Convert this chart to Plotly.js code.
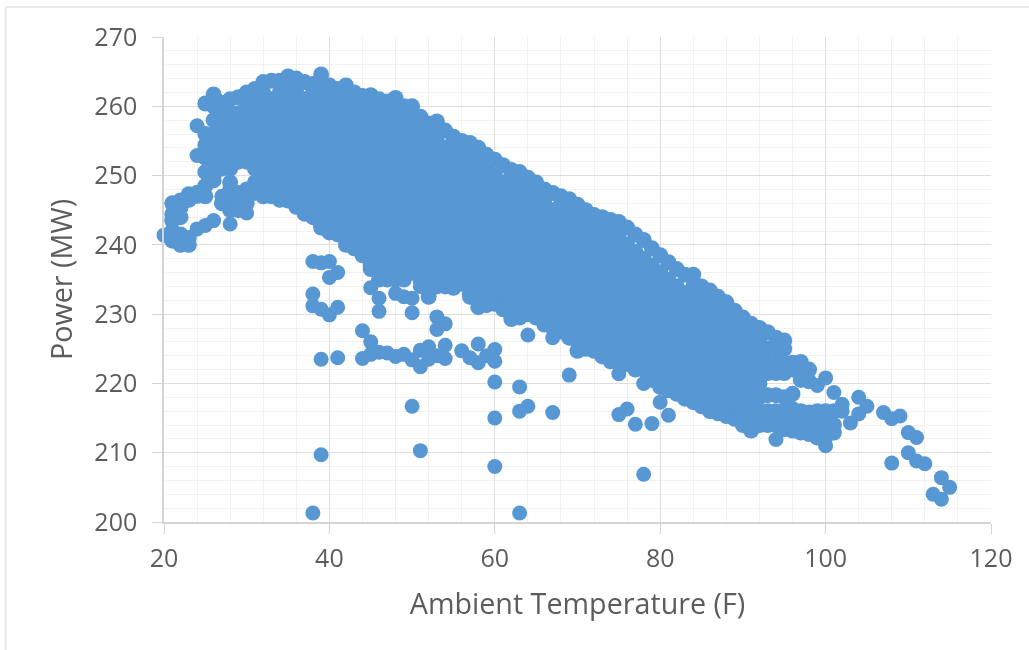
<!DOCTYPE html>
<html><head><meta charset="utf-8">
<script src="https://cdn.plot.ly/plotly-3.0.1.min.js"></script>
<style>html,body{margin:0;padding:0;background:#fff}#c{width:1029px;height:650px;filter:blur(0.5px)}</style>
</head><body><div id="c"></div>
<script>
const xTickValues=[20,40,60,80,100,120];
const yTickValues=[200,210,220,230,240,250,260,270];
const xTitle="Ambient Temperature (F)";
const yTitle="Power (MW)";
// readings grouped by temperature: [temperature, powers...]
const columns=[
[21,246,244.4,243.5,242,240.6],
[22,246.4,245.4,244,241.5,240],
[23,247.3,246.5,240,241],
[25,260.4,256,254.4,252.6,250.5,248.5,247],
[26,261.7,260,258,256,254,252,250,249.3],
[27,260.5,258.5,256.5,254.5,252.5,251,246],
[28,261,259,257,255,253,251,249,248,247,245],
[29,261.3,259,257,255,253,252,247.5,246,245],
[30,262,260,258,256,254,252,248,247,246],
[31,262.5,261,259,257,255,253,251,249,247.5],
[32,263.5,262,260,258,256,254,252,250,248,247],
[33,263.7,261,259,257,255,253,251,249,247],
[34,263.7,262,260,258,256,254,252,250,248,246.5],
[35,264.3,263,261,259,257,255,253,251,249,247,246.4],
[36,264,262,260,258,256,254,252,250,248,246,245.5],
[37,263.5,261,259,257,255,253,251,249,247,245,244.5],
[38,263.2,262,260,258,256,254,252,250,248,246,244],
[39,264.6,263,261,259,257,255,253,251,249,247,245,243,242.5],
[40,263,262,260,258,256,254,252,250,248,246,244,242,241.8],
[41,262.5,261,259,257,255,253,251,249,247,245,243,241.5],
[42,263,262,260,258,256,254,252,250,248,246,244,242,240],
[43,262,261,259,257,255,253,251,249,247,245,243,241,239.5],
[44,261.5,260,258,256,254,252,250,248,246,244,242,240,238.5],
[45,261.6,261,259,257,255,253,251,249,247,245,243,241,239,237,236.5],
[46,261,260,258,256,254,252,250,248,246,244,242,240,238,236,235],
[47,260.7,259,257,255,253,251,249,247,245,243,241,239,237,235],
[48,261.2,260,258,256,254,252,250,248,246,244,242,240,238,236,235],
[49,260,259,257,255,253,251,249,247,245,243,241,239,237,235],
[50,260,258,256,254,252,250,248,246,244,242,240,238,236],
[51,258.5,257,255,253,251,249,247,245,243,241,239,237,235],
[52,257.5,256,254,252,250,248,246,244,242,240,238,236,234.5,232.5],
[53,257.8,257,255,253,251,249,247,245,243,241,239,237,235,234],
[54,256.5,254,252,250,248,246,244,242,240,238,236,234],
[55,255.6,255,253,251,249,247,245,243,241,239,237,235,233.8],
[56,255,254,252,250,248,246,244,242,240,238,236,234.4],
[57,254.7,253,251,249,247,245,243,241,239,237,235,233,232.5],
[58,254,252,250,248,246,244,242,240,238,236,234,232,231],
[59,253,251,249,247,245,243,241,239,237,235,233,231.3],
[60,252.3,250,248,246,244,242,240,238,236,234,232,231.5],
[61,251.5,249,247,245,243,241,239,237,235,233,231,230.7],
[62,250.8,250,248,246,244,242,240,238,236,234,232,230,229.3],
[63,250.5,249,247,245,243,241,239,237,235,233,231,229.5],
[64,249.7,248,246,244,242,240,238,236,234,232,230],
[65,249,247,245,243,241,239,237,235,233,231,229.5],
[66,248,246,244,242,240,238,236,234,232,230,228.5],
[67,247.5,245,243,241,239,237,235,233,231,229,228],
[68,247,246,244,242,240,238,236,234,232,230,228,227.5],
[69,246.6,245,243,241,239,237,235,233,231,229,227,226.6],
[70,245.8,244,242,240,238,236,234,232,230,228,226,224.7],
[71,245,243,241,239,237,235,233,231,229,227,225],
[72,244.3,242,240,238,236,234,232,230,228,226,224.7],
[73,244,243,241,239,237,235,233,231,229,227,225,223.9],
[74,243.6,242,240,238,236,234,232,230,228,226,224,223.2],
[75,243.3,241,239,237,235,233,231,229,227,225,223],
[76,242.5,240,238,236,234,232,230,228,226,224,222.8],
[77,241.5,239,237,235,233,231,229,227,225,223,222],
[78,240.7,238,236,234,232,230,228,226,224,222],
[79,239.5,237,235,233,231,229,227,225,223,221,220.5],
[80,238.5,236,234,232,230,228,226,224,222,220,219.5],
[81,237.5,235,233,231,229,227,225,223,221,219],
[82,236.5,234,232,230,228,226,224,222,220,218.5],
[83,235.7,233,231,229,227,225,223,221,219,217.8],
[84,235.7,234,232,230,228,226,224,222,220,218,217.3],
[85,234,233,231,229,227,225,223,221,219,217,216.7],
[86,233.4,232,230,228,226,224,222,220,218,216],
[87,232.5,231,229,227,225,223,221,219,217,215.7],
[88,231.7,230,228,226,224,222,220,218,216,215.3],
[89,230.5,229,227,225,223,221,219,217,215,214.9],
[90,229.5,228,226,224,222,220,218,216,214],
[91,228.6,227,225,223,221,219,217,215,213.2],
[92,228,226,224,222,220,218,216,214],
[93,227.4,225,223,221.5,218.3,216,214],
[94,226.6,225,223,221.5,218.3,216,214],
[95,226.2,225,223,221.5,218,216,214,213.4],
[96,223,222,218.5,216.3,214.5,213.2],
[97,223.1,221.5,220.5,216,215,213,212.9],
[98,222,220.3,215.8,214,212.7],
[99,216,214,212.2],
[100,216,214,212.3],
[101,216,214,212.9]
];
// isolated readings outside the main band
const lowTemps=[20,21,22,23,24,24,24,24,24,25,26,27,28,28,30,38,39,40,41,40,38,38,39,40,41,39,41,39,38,
44,45,44,45,46,47,48,49,50,51,51,52,52,53,54,54,56,57,58,58,59,60,60,
45,46,46,48,49,50,50,51,52,53,54,53,
50,51,60,63,60,63,64,67,60,63,64,67,69,70,75,78,75,76,77,79,80,81,78,
94,99,100,100,101,102,102,103,104,104,105,107,108,108,109,110,110,111,111,112,113,114,114,115];
const lowPowers=[241.4,240.8,240,240,257.2,252.9,247.6,242.3,247,242.8,243.5,247,243,245,244.6,237.6,237.4,237.6,236,235.3,232.9,231.2,230.7,229.9,231,223.5,223.7,209.7,201.3,
227.6,226,223.6,224.2,224.5,224.4,223.9,224.2,223.4,222.4,224.8,225.3,223.5,224,225.5,223.6,224.7,223.7,225.7,223,224,224.9,223.2,
233.8,232.3,230.4,233,232.5,232.3,230.2,234,232.5,229.6,228.6,227.8,
216.7,210.3,220.2,219.5,215,216,216.7,215.8,208,201.3,227,226.6,221.2,224.7,221.4,220,215.5,216.3,214.1,214.2,217.3,215.4,206.9,
211.9,219.7,220.8,211,218.7,217,216,214.3,218,215.6,216.7,215.8,214.9,208.5,215.3,212.9,210,212.2,208.8,208.4,204,206.4,203.3,205];

const bandTemps=columns.flatMap(c=>c.slice(1).map(()=>c[0]));
const bandPowers=columns.flatMap(c=>c.slice(1));
const ink='#5c5c5c', fontFam='"Open Sans", sans-serif', blue='#5797d3';
const mkAxis=(extra)=>Object.assign({
  showline:true,linecolor:'#d4d4d4',linewidth:1.5,
  showgrid:true,gridcolor:'#dedede',gridwidth:1.2,
  ticks:'outside',ticklen:10,tickcolor:'#d4d4d4',tickwidth:1.2,
  tickfont:{family:fontFam,size:25,color:ink},zeroline:false,
  fixedrange:true
},extra);
Plotly.newPlot('c',[
 {type:'scatter',mode:'markers',x:bandTemps,y:bandPowers,marker:{color:blue,size:16,line:{width:0}},cliponaxis:false,hoverinfo:'x+y'},
 {type:'scatter',mode:'markers',x:lowTemps,y:lowPowers,marker:{color:blue,size:15,line:{width:0}},cliponaxis:false,hoverinfo:'x+y'}
],{
 width:1029,height:650,showlegend:false,
 paper_bgcolor:'#fff',plot_bgcolor:'#fff',
 margin:{l:163.5,r:38,t:36.5,b:128,pad:0},
 xaxis:mkAxis({range:[20,120],tickvals:xTickValues,ticktext:xTickValues.map(String),ticklabelstandoff:3,
   minor:{dtick:4,tick0:20,showgrid:true,gridcolor:'#f3f1ee',gridwidth:1,ticks:''},
   title:{text:xTitle,font:{family:fontFam,size:28.7,color:ink},standoff:21}}),
 yaxis:mkAxis({range:[200,270],tickvals:yTickValues,ticktext:yTickValues.map(String),ticklabelstandoff:10,
   minor:{dtick:2,tick0:200,showgrid:true,gridcolor:'#f3f1ee',gridwidth:1,ticks:''},
   title:{text:yTitle,font:{family:fontFam,size:28.7,color:ink},standoff:13}}),
 shapes:[
  {type:'line',xref:'paper',yref:'paper',x0:-0.1915,x1:1.05,y0:1.0619,y1:1.0619,line:{color:'#e8e8e8',width:2}},
  {type:'line',xref:'paper',yref:'paper',x0:-0.1915,x1:-0.1915,y0:-0.264,y1:1.0619,line:{color:'#e8e8e8',width:2}}
 ]
},{displayModeBar:false,responsive:false});
</script></body></html>
